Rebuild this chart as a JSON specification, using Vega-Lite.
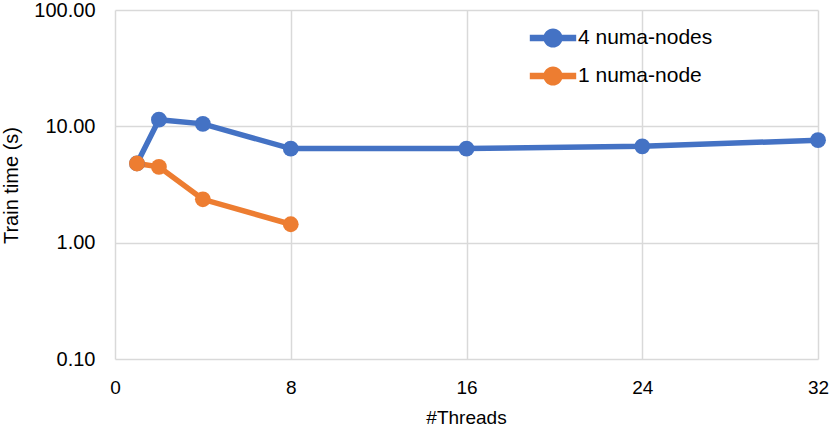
{
  "$schema": "https://vega.github.io/schema/vega-lite/v6.json",
  "width": 703,
  "height": 349,
  "autosize": {"type": "none"},
  "padding": {"left": 115, "top": 10, "right": 12, "bottom": 69},
  "background": "white",
  "config": {
    "view": {"stroke": null},
    "font": "Liberation Sans",
    "axis": {"gridColor": "#d9d9d9", "gridWidth": 1.5, "domain": false, "ticks": false, "labelColor": "#000000", "titleColor": "#000000", "titleFontWeight": "normal"}
  },
  "data": {
    "values": [
      {"threads": 1, "time": 4.8, "series": "4 numa-nodes"},
      {"threads": 2, "time": 11.4, "series": "4 numa-nodes"},
      {"threads": 4, "time": 10.5, "series": "4 numa-nodes"},
      {"threads": 8, "time": 6.44, "series": "4 numa-nodes"},
      {"threads": 16, "time": 6.44, "series": "4 numa-nodes"},
      {"threads": 24, "time": 6.73, "series": "4 numa-nodes"},
      {"threads": 32, "time": 7.6, "series": "4 numa-nodes"},
      {"threads": 1, "time": 4.79, "series": "1 numa-node"},
      {"threads": 2, "time": 4.48, "series": "1 numa-node"},
      {"threads": 4, "time": 2.36, "series": "1 numa-node"},
      {"threads": 8, "time": 1.44, "series": "1 numa-node"}
    ]
  },
  "encoding": {
    "x": {"field": "threads", "type": "quantitative", "title": "#Threads",
      "scale": {"domain": [0, 32], "nice": false, "zero": false},
      "axis": {"values": [0, 8, 16, 24, 32], "labelFontSize": 19, "titleFontSize": 19, "labelPadding": 19, "titleX": 351, "titleY": 58, "titleBaseline": "middle", "titleAlign": "center", "labelFlush": false}},
    "y": {"field": "time", "type": "quantitative", "title": "Train time (s)",
      "scale": {"type": "log", "domain": [0.1, 100], "nice": false},
      "axis": {"values": [0.1, 1, 10, 100], "format": ".2f", "labelFontSize": 20, "titleFontSize": 20, "labelPadding": 20, "titleX": -104, "titleY": 175, "titleAngle": -90, "titleBaseline": "middle", "titleAlign": "center", "labelFlush": false}},
    "color": {"field": "series", "type": "nominal",
      "scale": {"domain": ["4 numa-nodes", "1 numa-node"], "range": ["#4472C4", "#ED7D31"]},
      "legend": {"title": null, "orient": "none", "legendX": 422, "legendY": 12,
        "symbolType": "M-1.45,-0.2 L-0.5,-0.2 L-0.5,0.2 L-1.45,0.2 Z M0.5,-0.2 L1.45,-0.2 L1.45,0.2 L0.5,0.2 Z M-0.6,0 A0.6,0.6 0 1,1 0.6,0 A0.6,0.6 0 1,1 -0.6,0 Z",
        "symbolSize": 1024, "symbolStrokeWidth": 0, "labelFontSize": 21, "labelColor": "#000000", "labelOffset": 9, "rowPadding": 12, "labelLimit": 300}}
  },
  "layer": [
    {"mark": {"type": "line", "strokeWidth": 5.5}},
    {"mark": {"type": "point", "filled": true, "size": 250, "opacity": 1}}
  ]
}
